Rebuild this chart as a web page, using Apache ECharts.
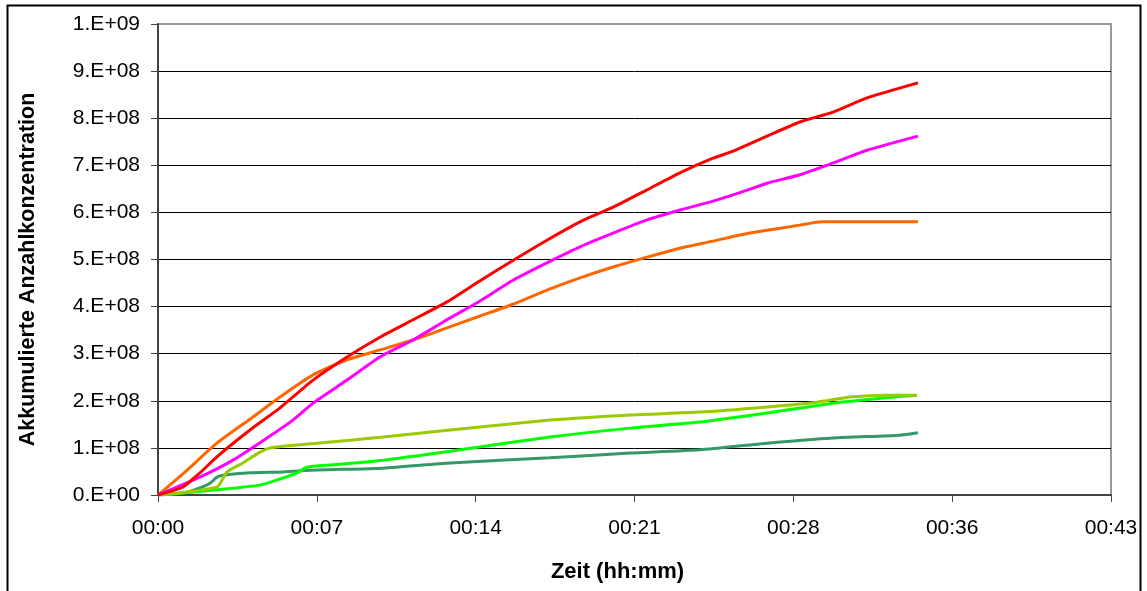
<!DOCTYPE html>
<html>
  <head>
    <title>Akkumulierte Anzahlkonzentration</title>
    <meta charset='utf-8' />
    <script src="https://cdn.jsdelivr.net/npm/echarts@6/dist/echarts.min.js"></script>
  </head>
  <body style="margin: 0;">
    <div id="content" style="width: 1147px; height: 591px;"></div>

    <script type="text/javascript">
      // x in minutes, y as accumulated concentration
      var redData = [[0, 0], [1.13, 0.17e8], [1.9, 0.47e8], [2.67, 0.81e8], [4.17, 1.38e8], [5.53, 1.85e8],
        [7.03, 2.44e8], [8.57, 2.93e8], [10.06, 3.35e8], [11.56, 3.72e8], [13.1, 4.1e8], [14.6, 4.55e8],
        [16.09, 4.98e8], [17.63, 5.41e8], [19.13, 5.8e8], [20.63, 6.11e8], [22.17, 6.48e8], [23.66, 6.84e8],
        [25.16, 7.15e8], [26.07, 7.3e8], [27.61, 7.62e8], [29.1, 7.92e8], [30.6, 8.13e8], [32.14, 8.43e8],
        [34.45, 8.75e8]];
      var magentaData = [[0, 0], [1.9, 0.38e8], [3.4, 0.74e8], [4.94, 1.21e8], [6.12, 1.59e8], [7.03, 1.95e8],
        [8.57, 2.44e8], [10.06, 2.93e8], [11.56, 3.29e8], [13.1, 3.72e8], [14.6, 4.12e8], [16.09, 4.56e8],
        [17.63, 4.93e8], [19.13, 5.27e8], [20.63, 5.56e8], [22.17, 5.84e8], [23.66, 6.05e8], [25.16, 6.24e8],
        [26.38, 6.42e8], [27.61, 6.62e8], [29.1, 6.8e8], [30.6, 7.05e8], [32.14, 7.32e8], [34.45, 7.62e8]];
      var orangeData = [[0, 0], [1.13, 0.45e8], [2.67, 1.1e8], [4.17, 1.61e8], [5.53, 2.08e8], [7.03, 2.55e8],
        [8.57, 2.87e8], [10.06, 3.08e8], [11.56, 3.29e8], [13.1, 3.55e8], [14.6, 3.8e8], [16.09, 4.05e8],
        [17.63, 4.35e8], [19.13, 4.61e8], [20.63, 4.84e8], [22.17, 5.05e8], [23.66, 5.24e8], [25.16, 5.39e8],
        [26.38, 5.52e8], [27.61, 5.62e8], [29.1, 5.73e8], [30.1, 5.8e8], [34.45, 5.8e8]];
      var yellowGreenData = [[0, 0], [2.67, 0.17e8], [3.13, 0.49e8], [3.85, 0.68e8], [4.62, 0.91e8], [5.08, 1.0e8],
        [7.21, 1.1e8], [10.2, 1.23e8], [13.24, 1.38e8], [17.77, 1.59e8], [21.4, 1.7e8], [24.57, 1.76e8],
        [27.61, 1.87e8], [29.87, 1.97e8], [31.37, 2.08e8], [33.05, 2.12e8], [34.4, 2.12e8]];
      var brightGreenData = [[0, 0], [1.13, 0.04e8], [2.67, 0.11e8], [4.62, 0.21e8], [5.67, 0.36e8], [6.3, 0.47e8],
        [6.75, 0.59e8], [7.93, 0.64e8], [10.2, 0.74e8], [13.24, 0.93e8], [17.77, 1.23e8], [21.4, 1.42e8],
        [24.57, 1.55e8], [27.61, 1.74e8], [30.6, 1.95e8], [32.87, 2.06e8], [34.4, 2.12e8]];
      var darkGreenData = [[0, 0], [1.13, 0.04e8], [1.9, 0.15e8], [2.36, 0.25e8], [2.67, 0.38e8], [2.95, 0.42e8],
        [4.17, 0.47e8], [5.67, 0.49e8], [7.21, 0.53e8], [10.2, 0.57e8], [13.24, 0.68e8], [17.77, 0.79e8],
        [21.4, 0.89e8], [24.57, 0.96e8], [27.61, 1.1e8], [30.6, 1.21e8], [33.64, 1.27e8], [34.45, 1.32e8]];

      var yTickLabels = ['0.E+00', '1.E+08', '2.E+08', '3.E+08', '4.E+08', '5.E+08',
        '6.E+08', '7.E+08', '8.E+08', '9.E+08', '1.E+09'];

      var seriesList = [
        {data: darkGreenData, color: '#339966'},
        {data: brightGreenData, color: '#00FF00'},
        {data: yellowGreenData, color: '#99CC00'},
        {data: orangeData, color: '#FF6600'},
        {data: magentaData, color: '#FF00FF'},
        {data: redData, color: '#FF0000'}
      ];

      function pad(n) {
        return (n < 10 ? '0' : '') + n;
      }

      var myChart = echarts.init(document.getElementById('content'));
      var options = {
        backgroundColor: '#fff',
        animation: false,
        grid: {
          left: 158, top: 24, right: 36, bottom: 96,
          show: true, borderColor: '#999', borderWidth: 2
        },
        graphic: [{
          type: 'rect',
          shape: {x: 7.5, y: 5.5, width: 1133, height: 620},
          style: {fill: 'none', stroke: '#000', lineWidth: 2},
          silent: true
        }],
        xAxis: {
          type: 'value',
          min: 0, max: 43.2, interval: 7.2,
          name: 'Zeit (hh:mm)',
          nameLocation: 'middle',
          nameGap: 66,
          nameTextStyle: {
            fontFamily: 'Liberation Sans', fontWeight: 'bold', fontSize: 22, color: '#000',
            padding: [0, 34, 0, 0]
          },
          axisLine: {lineStyle: {color: '#444', width: 2}},
          axisTick: {show: true, length: 7, lineStyle: {color: '#444', width: 1}},
          axisLabel: {
            margin: 23,
            fontFamily: 'Liberation Sans', fontSize: 21, color: '#000',
            formatter: function (v) { return '00:' + pad(Math.floor(v + 1e-6)); }
          },
          splitLine: {show: false}
        },
        yAxis: {
          type: 'value',
          min: 0, max: 1e9, interval: 1e8,
          name: 'Akkumulierte Anzahlkonzentration',
          nameLocation: 'middle',
          nameGap: 119,
          nameTextStyle: {
            fontFamily: 'Liberation Sans', fontWeight: 'bold', fontSize: 21.5, color: '#000',
            padding: [0, 20, 0, 0]
          },
          axisLine: {show: true, lineStyle: {color: '#444', width: 2}},
          axisTick: {show: true, length: 7, lineStyle: {color: '#444', width: 1}},
          axisLabel: {
            margin: 18,
            fontFamily: 'Liberation Sans', fontSize: 21, color: '#000',
            formatter: function (v) { return yTickLabels[Math.round(v / 1e8)]; }
          },
          splitLine: {show: true, showMaxLine: false, lineStyle: {color: '#000', width: 1}}
        },
        series: seriesList.map(function (s) {
          return {
            type: 'line',
            data: s.data,
            showSymbol: false,
            smooth: 0.2,
            lineStyle: {color: s.color, width: 3},
            itemStyle: {color: s.color}
          };
        })
      };
      myChart.setOption(options);
    </script>
  </body>
</html>
